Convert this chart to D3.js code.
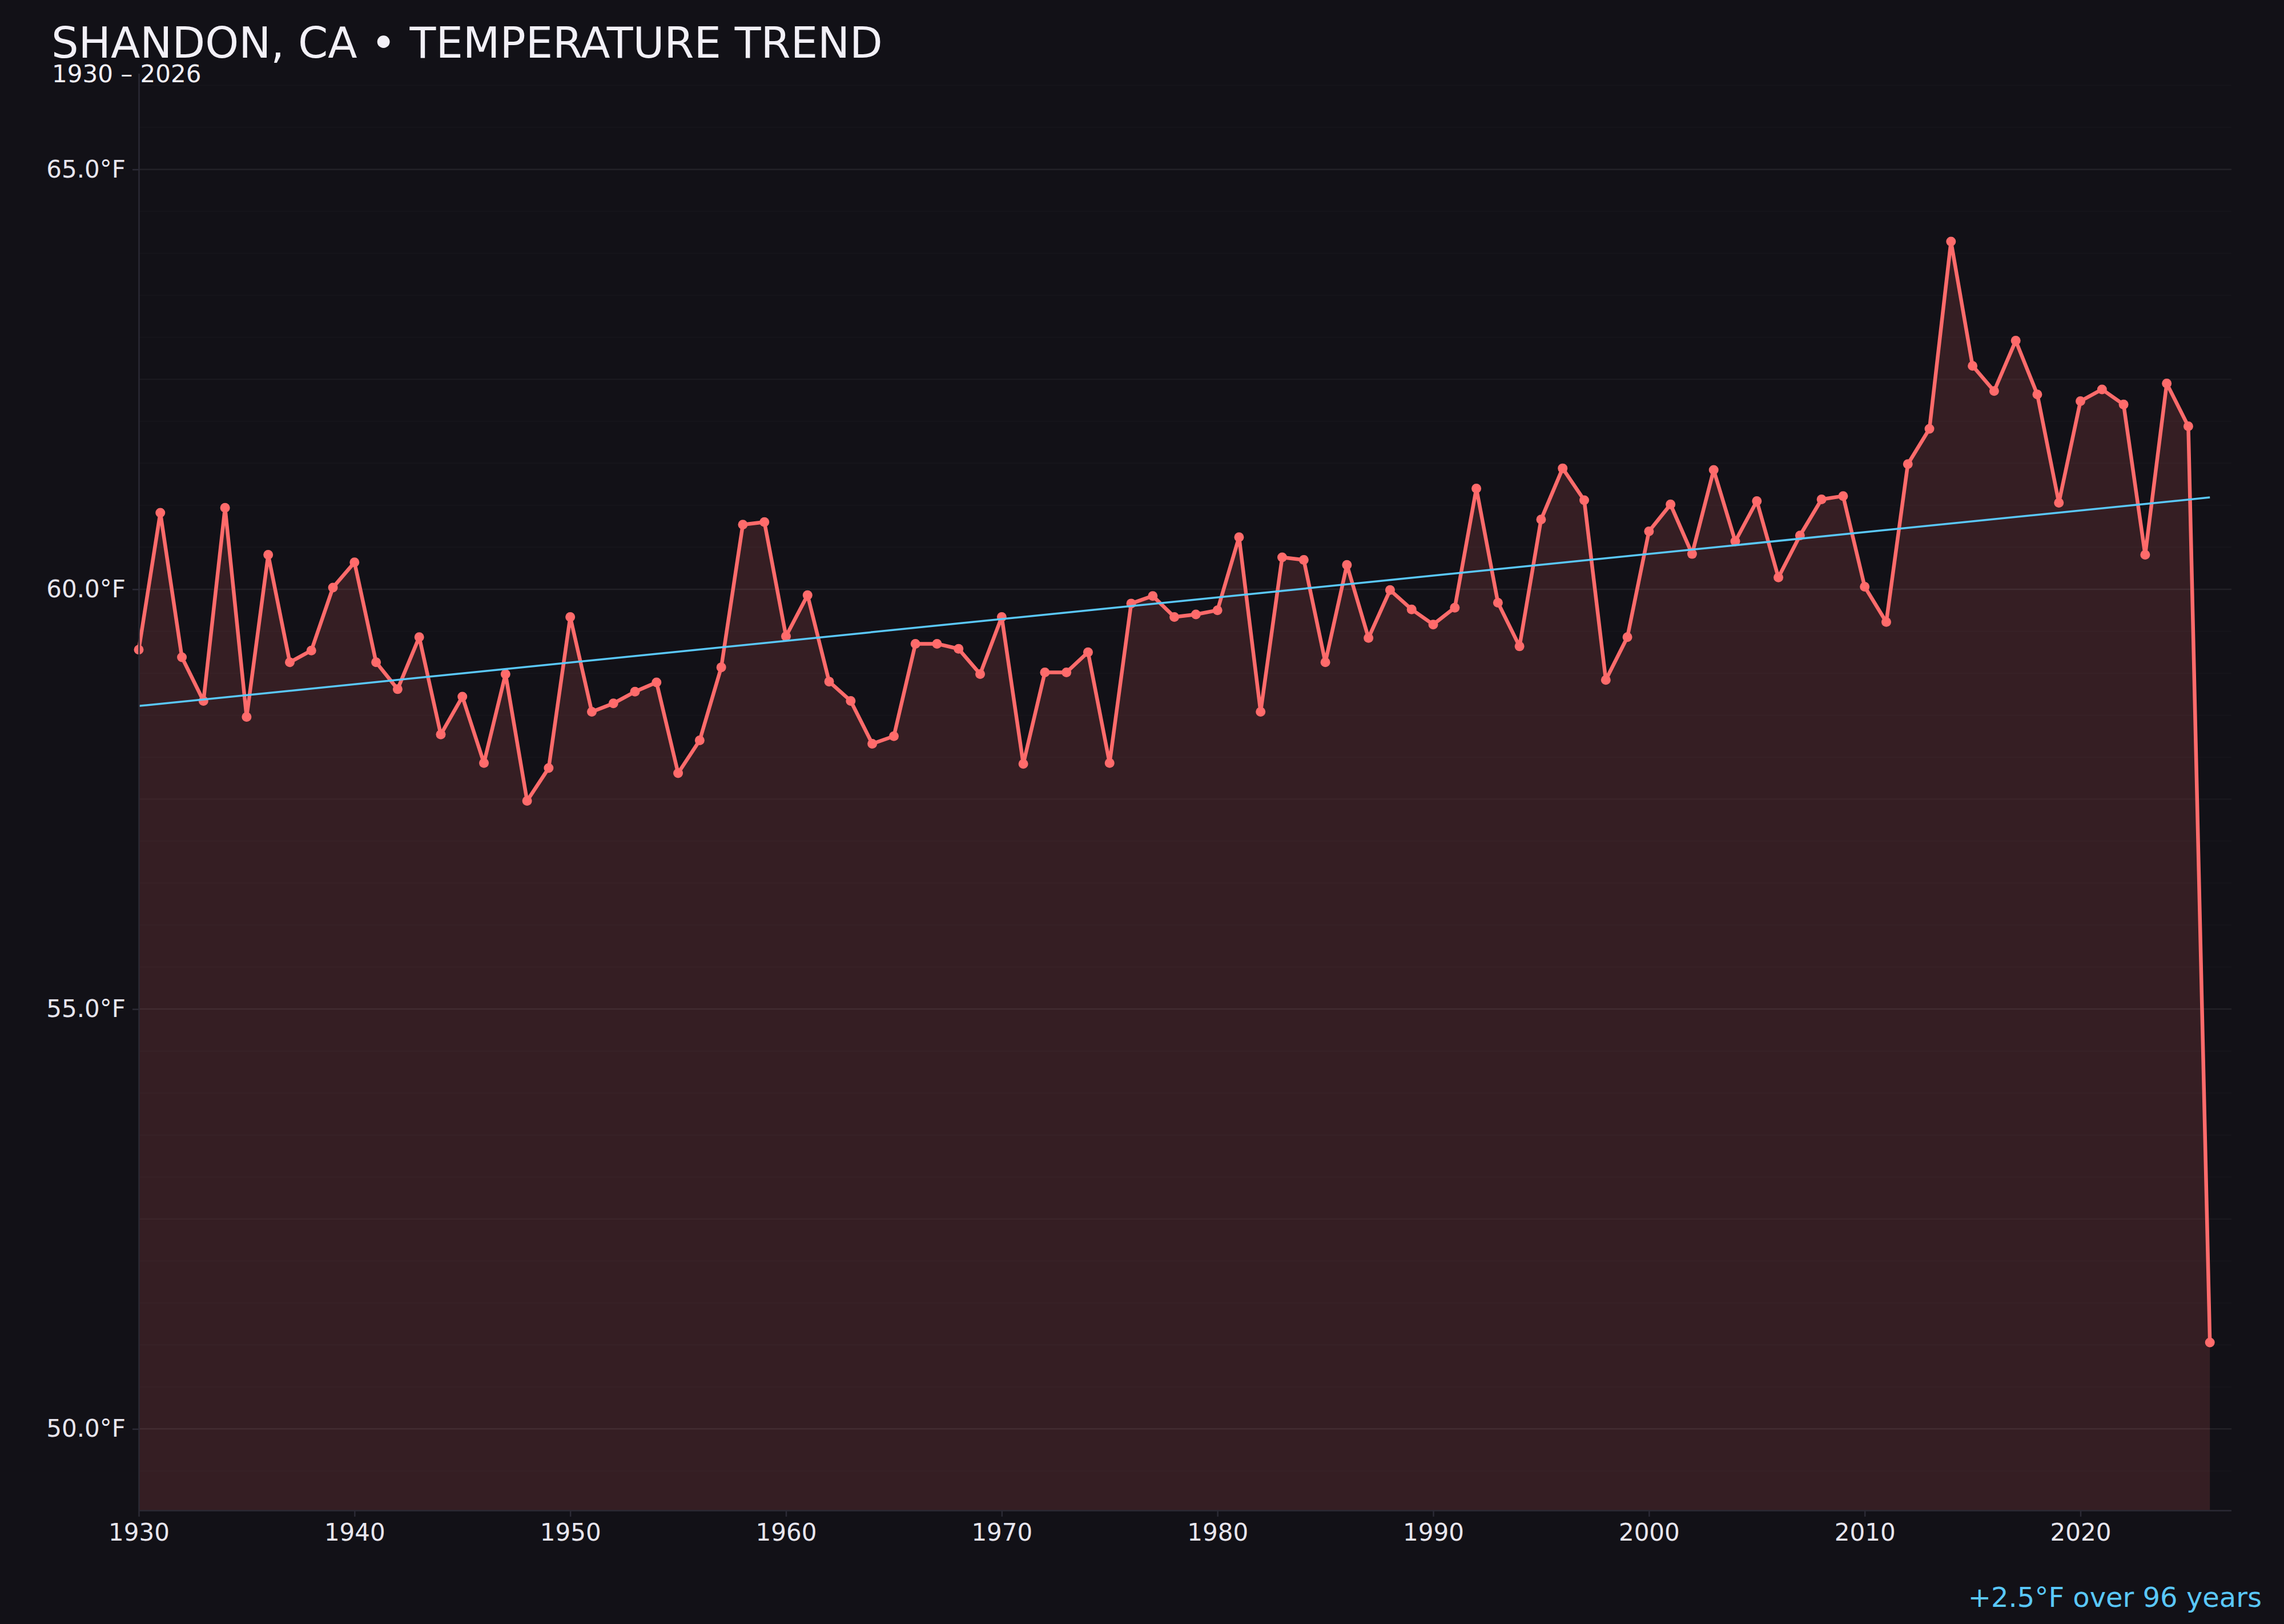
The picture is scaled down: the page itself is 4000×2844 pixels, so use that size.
<!DOCTYPE html>
<html>
<head>
<meta charset="utf-8">
<script src="https://cdn.jsdelivr.net/npm/d3@7/dist/d3.min.js"></script>
<style>
  body { margin: 0; background: #121117; }
  svg { display: block; font-family: "DejaVu Sans", sans-serif; }
</style>
</head>
<body>
<svg id="chart" width="4000" height="2844"></svg>
<script>
// annual mean temperature, Shandon CA
const years = [
  1930, 1931, 1932, 1933, 1934, 1935, 1936, 1937, 1938, 1939,
  1940, 1941, 1942, 1943, 1944, 1945, 1946, 1947, 1948, 1949,
  1950, 1951, 1952, 1953, 1954, 1955, 1956, 1957, 1958, 1959,
  1960, 1961, 1962, 1963, 1964, 1965, 1966, 1967, 1968, 1969,
  1970, 1971, 1972, 1973, 1974, 1975, 1976, 1977, 1978, 1979,
  1980, 1981, 1982, 1983, 1984, 1985, 1986, 1987, 1988, 1989,
  1990, 1991, 1992, 1993, 1994, 1995, 1996, 1997, 1998, 1999,
  2000, 2001, 2002, 2003, 2004, 2005, 2006, 2007, 2008, 2009,
  2010, 2011, 2012, 2013, 2014, 2015, 2016, 2017, 2018, 2019,
  2020, 2021, 2022, 2023, 2024, 2025, 2026
]
const temps = [
  59.28, 60.91, 59.19, 58.67, 60.97, 58.48, 60.41, 59.13, 59.27, 60.02,
  60.32, 59.13, 58.81, 59.43, 58.27, 58.72, 57.93, 58.99, 57.48, 57.87,
  59.67, 58.54, 58.64, 58.78, 58.89, 57.81, 58.20, 59.07, 60.77, 60.80,
  59.44, 59.93, 58.90, 58.67, 58.16, 58.25, 59.35, 59.35, 59.29, 58.99,
  59.67, 57.92, 59.01, 59.01, 59.25, 57.93, 59.83, 59.92, 59.67, 59.70,
  59.75, 60.62, 58.54, 60.38, 60.35, 59.13, 60.29, 59.42, 59.99, 59.76,
  59.58, 59.78, 61.20, 59.84, 59.32, 60.83, 61.44, 61.06, 58.92, 59.43,
  60.69, 61.01, 60.42, 61.42, 60.57, 61.05, 60.14, 60.64, 61.07, 61.11,
  60.03, 59.61, 61.49, 61.91, 64.14, 62.66, 62.36, 62.96, 62.32, 61.03,
  62.24, 62.38, 62.20, 60.41, 62.45, 61.94, 51.03
]
const xTicks = [1930, 1940, 1950, 1960, 1970, 1980, 1990, 2000, 2010, 2020]
const yTicks = [50, 55, 60, 65]

const title = "SHANDON, CA \u2022 TEMPERATURE TREND"
const subtitle = "1930 \u2013 2026"

const data = years.map((y, i) => ({ year: y, temp: temps[i] }))

const chart = {
    left: 243,
    right: 3908,
    top: 129,
    bottom: 2645
}

const svg = d3.select("#chart")

svg.append("rect")
    .attr("width", 4000)
    .attr("height", 2844)
    .attr("fill", "#121117")

const x = d3.scaleLinear()
    .domain([years[0], years[years.length - 1] + 1])
    .range([chart.left, chart.right])

const [tMin, tMax] = d3.extent(temps)
const y = d3.scaleLinear()
    .domain([tMin - 2, tMax + 2])
    .range([chart.bottom, chart.top])

// faint grid every half degree, a bit stronger on the labelled ticks
const minor = d3.range(Math.ceil(y.domain()[0] * 2) / 2, y.domain()[1], 0.5)
const gridOpacity = d => yTicks.includes(d) ? 0.07 : (d % 2.5 === 0 ? 0.035 : 0.016)

svg.append("g")
    .selectAll("line")
    .data(minor)
    .join("line")
    .attr("x1", chart.left)
    .attr("x2", chart.right)
    .attr("y1", d => y(d))
    .attr("y2", d => y(d))
    .attr("stroke", "#ffffff")
    .attr("stroke-opacity", gridOpacity)
    .attr("stroke-width", 2.5)

// area under the series
const area = d3.area()
    .x(d => x(d.year))
    .y0(chart.bottom)
    .y1(d => y(d.temp))

svg.append("path")
    .datum(data)
    .attr("d", area)
    .attr("fill", "#ff6b6b")
    .attr("fill-opacity", 0.15)

const line = d3.line()
    .x(d => x(d.year))
    .y(d => y(d.temp))

svg.append("path")
    .datum(data)
    .attr("d", line)
    .attr("fill", "none")
    .attr("stroke", "#ff6b6b")
    .attr("stroke-width", 6.5)
    .attr("stroke-linejoin", "round")

svg.append("g")
    .selectAll("circle")
    .data(data)
    .join("circle")
    .attr("cx", d => x(d.year))
    .attr("cy", d => y(d.temp))
    .attr("r", 8.5)
    .attr("fill", "#ff6b6b")

// least squares trend
const xMean = d3.mean(years)
const yMean = d3.mean(temps)
const sxy = d3.sum(data, d => (d.year - xMean) * (d.temp - yMean))
const sxx = d3.sum(data, d => (d.year - xMean) ** 2)
const slope = sxy / sxx
const trendAt = yr => yMean + slope * (yr - xMean)
const span = years[years.length - 1] - years[0]

svg.append("line")
    .attr("x1", x(years[0]))
    .attr("y1", y(trendAt(years[0])))
    .attr("x2", x(years[years.length - 1]))
    .attr("y2", y(trendAt(years[years.length - 1])))
    .attr("stroke", "#5ac8fa")
    .attr("stroke-width", 3.5)

// axes
const xAxis = g => g
    .attr("transform", `translate(0,${chart.bottom})`)
    .call(d3.axisBottom(x).tickValues(xTicks).tickFormat(d3.format("d")).tickSize(11).tickPadding(12))
    .call(g => g.select(".domain").attr("d", `M${chart.left},0.5H${chart.right}`))

const yAxis = g => g
    .attr("transform", `translate(${chart.left},0)`)
    .call(d3.axisLeft(y).tickValues(yTicks).tickFormat(d => d.toFixed(1) + "\u00b0F").tickSize(11).tickPadding(12))
    .call(g => g.select(".domain").attr("d", `M0.5,${chart.top}V${chart.bottom}`))

const styleAxis = g => {
    g.attr("font-family", "DejaVu Sans, sans-serif").attr("font-size", 42)
    g.selectAll(".domain").attr("stroke", "#2b2a35").attr("stroke-width", 2.5)
    g.selectAll(".tick line").attr("stroke", "#2b2a35").attr("stroke-width", 2.5)
    g.selectAll(".tick text").attr("fill", "#e8e6ee")
}

svg.append("g").call(xAxis).call(styleAxis)
svg.append("g").call(yAxis).call(styleAxis)

// titles
svg.append("text")
    .attr("x", 90)
    .attr("y", 101)
    .attr("font-size", 75)
    .attr("fill", "#f2f0f7")
    .text(title)

svg.append("text")
    .attr("x", 91)
    .attr("y", 144)
    .attr("font-size", 42)
    .attr("fill", "#f2f0f7")
    .text(subtitle)

svg.append("text")
    .attr("x", 3961)
    .attr("y", 2814)
    .attr("text-anchor", "end")
    .attr("font-size", 48)
    .attr("fill", "#5ac8fa")
    .text(`${slope >= 0 ? "+" : ""}${(slope * span).toFixed(1)}\u00b0F over ${span} years`)
</script>
</body>
</html>
